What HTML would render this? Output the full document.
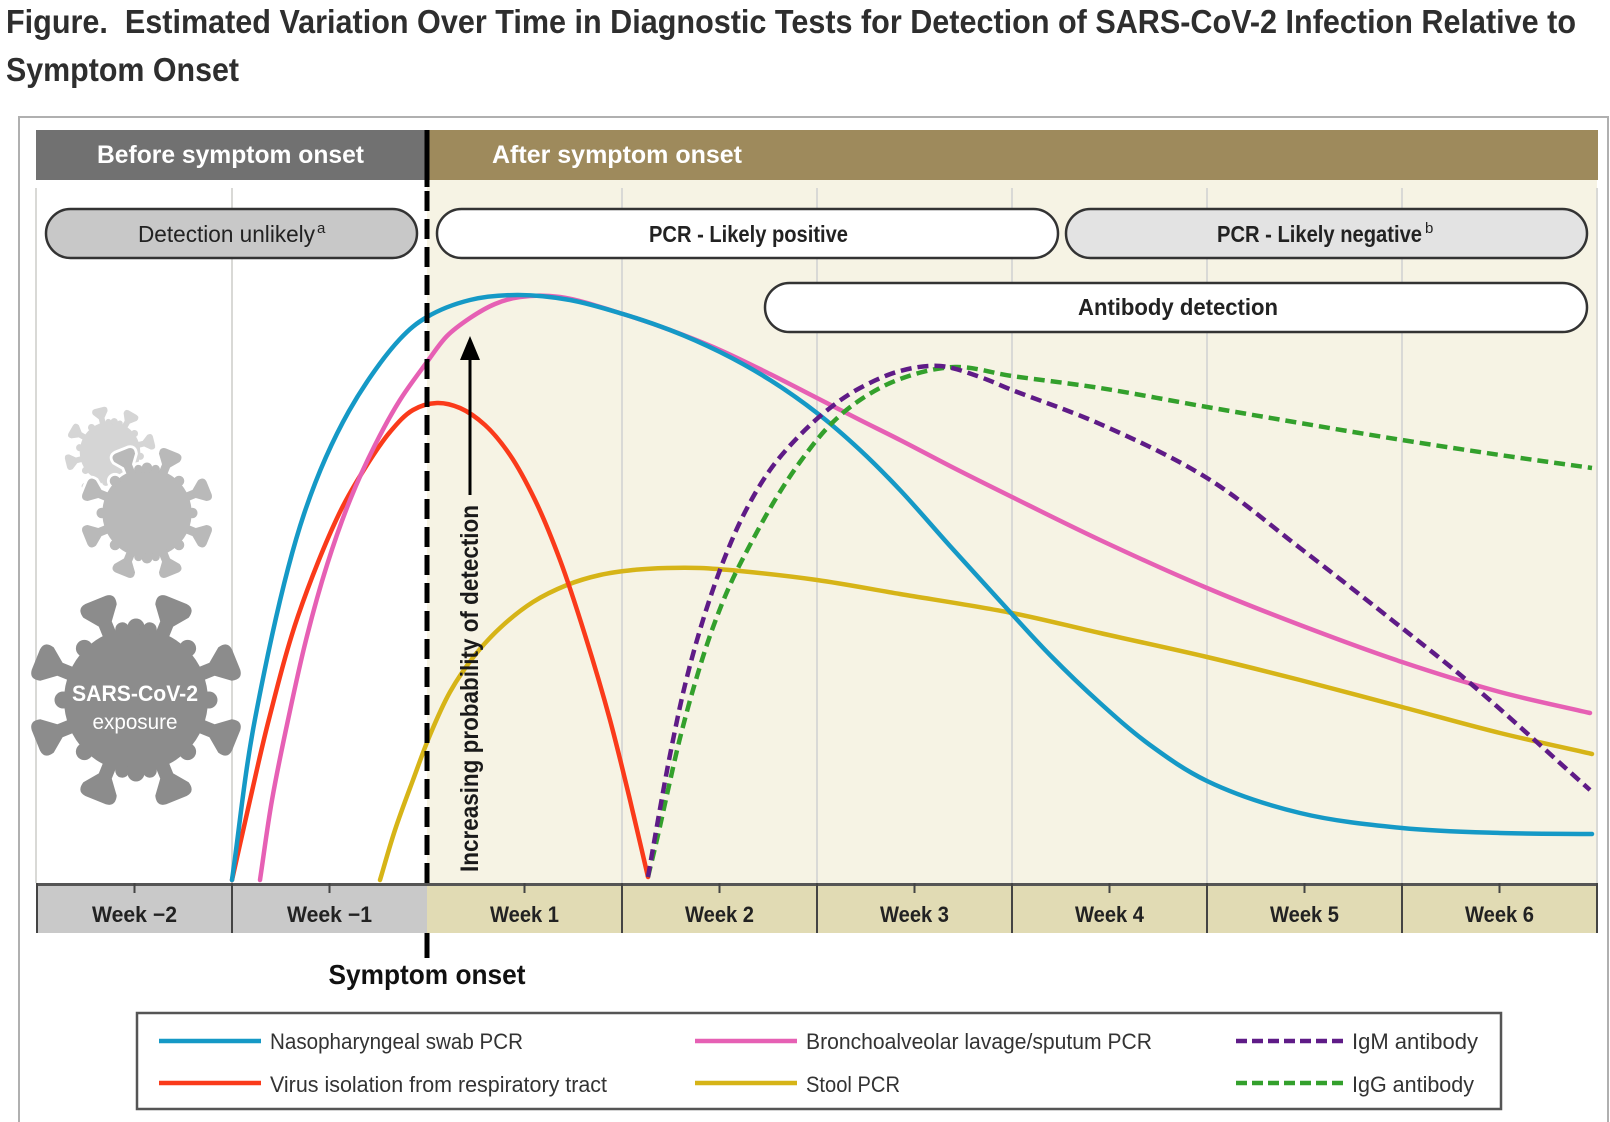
<!DOCTYPE html>
<html>
<head>
<meta charset="utf-8">
<style>
html,body{margin:0;padding:0;background:#fff;width:1610px;height:1122px;overflow:hidden}
svg{display:block}
text{font-family:"Liberation Sans Narrow","Liberation Sans",sans-serif}
</style>
</head>
<body>
<svg width="1610" height="1122" viewBox="0 0 1610 1122" xmlns="http://www.w3.org/2000/svg">
<defs>
  <path id="spk" d="M-7,-66 L-7,-82 L-18,-96 Q-21,-107 -11,-108 L11,-108 Q21,-107 18,-96 L7,-82 L7,-66 Z"/>
  <g id="vir">
    <circle cx="0" cy="0" r="72"/>
    <circle cx="0" cy="-73" r="8.5" transform="rotate(0)"/>
    <circle cx="0" cy="-73" r="8.5" transform="rotate(45)"/>
    <circle cx="0" cy="-73" r="8.5" transform="rotate(90)"/>
    <circle cx="0" cy="-73" r="8.5" transform="rotate(135)"/>
    <circle cx="0" cy="-73" r="8.5" transform="rotate(180)"/>
    <circle cx="0" cy="-73" r="8.5" transform="rotate(225)"/>
    <circle cx="0" cy="-73" r="8.5" transform="rotate(270)"/>
    <circle cx="0" cy="-73" r="8.5" transform="rotate(315)"/>
    <circle cx="0" cy="-72" r="7" transform="rotate(11)"/>
    <circle cx="0" cy="-72" r="7" transform="rotate(-11)"/>
    <circle cx="0" cy="-72" r="7" transform="rotate(169)"/>
    <circle cx="0" cy="-72" r="7" transform="rotate(-169)"/>
    <use href="#spk" transform="rotate(22)"/>
    <use href="#spk" transform="rotate(68)"/>
    <use href="#spk" transform="rotate(112)"/>
    <use href="#spk" transform="rotate(158)"/>
    <use href="#spk" transform="rotate(-22)"/>
    <use href="#spk" transform="rotate(-68)"/>
    <use href="#spk" transform="rotate(-112)"/>
    <use href="#spk" transform="rotate(-158)"/>
  </g>
</defs>

<!-- Title -->
<text x="6" y="33" font-size="33" font-weight="bold" fill="#2e2e2e" textLength="1570" lengthAdjust="spacingAndGlyphs">Figure.&#160; Estimated Variation Over Time in Diagnostic Tests for Detection of SARS-CoV-2 Infection Relative to</text>
<text x="6" y="81" font-size="33" font-weight="bold" fill="#2e2e2e" textLength="233" lengthAdjust="spacingAndGlyphs">Symptom Onset</text>

<!-- Frame -->
<rect x="19" y="117" width="1589" height="1030" fill="#fff" stroke="#b0b0b0" stroke-width="2"/>

<!-- Header -->
<rect x="36" y="130" width="391" height="50" fill="#717171"/>
<rect x="427" y="130" width="1171" height="50" fill="#9e8a5c"/>
<text x="97" y="163" font-size="25" font-weight="bold" fill="#fff" textLength="267" lengthAdjust="spacingAndGlyphs">Before symptom onset</text>
<text x="492" y="163" font-size="25" font-weight="bold" fill="#fff" textLength="250" lengthAdjust="spacingAndGlyphs">After symptom onset</text>

<!-- Plot background -->
<rect x="427" y="180" width="1170" height="703" fill="#f6f3e4"/>
<g stroke="#d9d9d6" stroke-width="2">
  <line x1="36" y1="188" x2="36" y2="883"/>
  <line x1="232" y1="188" x2="232" y2="883"/>
  <line x1="622" y1="188" x2="622" y2="883"/>
  <line x1="817" y1="188" x2="817" y2="883"/>
  <line x1="1012" y1="188" x2="1012" y2="883"/>
  <line x1="1207" y1="188" x2="1207" y2="883"/>
  <line x1="1402" y1="188" x2="1402" y2="883"/>
  <line x1="1597" y1="188" x2="1597" y2="883"/>
</g>

<!-- Pills -->
<rect x="46" y="209" width="371" height="49" rx="24.5" fill="#c8c8c8" stroke="#333" stroke-width="2.5"/>
<text x="138" y="242" font-size="23" fill="#222" textLength="177" lengthAdjust="spacingAndGlyphs">Detection unlikely</text>
<text x="317" y="233" font-size="15" fill="#222">a</text>

<rect x="437" y="209" width="621" height="49" rx="24.5" fill="#fff" stroke="#333" stroke-width="2.5"/>
<text x="649" y="242" font-size="23" font-weight="bold" fill="#222" textLength="199" lengthAdjust="spacingAndGlyphs">PCR - Likely positive</text>

<rect x="1066" y="209" width="521" height="49" rx="24.5" fill="#e3e3e3" stroke="#333" stroke-width="2.5"/>
<text x="1217" y="242" font-size="23" font-weight="bold" fill="#222" textLength="205" lengthAdjust="spacingAndGlyphs">PCR - Likely negative</text>
<text x="1425" y="233" font-size="15" fill="#222">b</text>

<rect x="765" y="283" width="822" height="49" rx="24.5" fill="#fff" stroke="#333" stroke-width="2.5"/>
<text x="1078" y="315" font-size="23" font-weight="bold" fill="#222" textLength="200" lengthAdjust="spacingAndGlyphs">Antibody detection</text>

<!-- Curves -->
<g fill="none" stroke-width="4.5" stroke-linecap="round" stroke-linejoin="round">
  <path class="crv" stroke="#d6b417" d="M380,880 L395,830 L413,780 L430,735 L450,692 L475,655 L500,628 L533,602 L567,585 L600,575 L633,570 L667,568 L700,568 L740,571 L817,580 L900,594 L1012,613 L1100,633 L1207,657 L1300,680 L1402,707 L1500,733 L1592,754"/>
  <path class="crv" stroke="#fa3a1a" d="M232,880 L250,800 L269,719 L298,616 L339,514 L365,468 L390,432 L413,410 L437,403 L460,408 L485,425 L510,455 L535,500 L560,560 L585,635 L610,720 L630,800 L648,877"/>
  <path class="crv" stroke="#e660b4" d="M260,880 L272,800 L288,720 L306,640 L327,565 L350,500 L375,445 L400,400 L427,362 L447,336 L470,318 L495,304 L520,297 L560,297 L623,314 L670,330 L720,350 L770,374 L817,398 L860,420 L900,440 L950,466 L1012,497 L1100,540 L1207,588 L1300,625 L1402,662 L1500,692 L1590,713"/>
  <path class="crv" stroke="#1599c6" d="M232,880 L255,719 L304,514 L349,411 L400,339 L427,317 L470,300 L517,295 L570,300 L623,314 L670,330 L720,352 L770,380 L817,413 L860,450 L900,490 L950,546 L1000,601 L1050,655 L1100,703 L1150,745 L1207,781 L1300,813 L1402,828 L1500,833 L1592,834"/>
</g>
<g fill="none" stroke-width="4.5" stroke-dasharray="11 6">
  <path class="crv" stroke="#33a02c" d="M648,877 L658,835 L668,790 L680,738 L695,683 L712,630 L730,585 L750,545 L775,500 L800,462 L830,425 L860,400 L900,379 L955,367 L1012,376 L1100,388 L1207,407 L1300,423 L1402,440 L1500,455 L1592,468"/>
  <path class="crv" stroke="#5f1b87" d="M648,877 L658,820 L670,755 L685,685 L703,620 L723,562 L745,512 L770,470 L800,435 L830,408 L860,388 L900,371 L940,366 L980,377 L1012,390 L1100,424 L1207,478 L1300,548 L1402,628 L1470,683 L1590,790"/>
</g>

<!-- Symptom onset line -->
<line x1="427" y1="130" x2="427" y2="187" stroke="#000" stroke-width="5"/>
<line x1="427" y1="191" x2="427" y2="880" stroke="#000" stroke-width="5" stroke-dasharray="20 8"/>
<line x1="427" y1="880" x2="427" y2="958" stroke="#000" stroke-width="5"/>

<!-- Arrow + label -->
<line x1="470" y1="495" x2="470" y2="356" stroke="#000" stroke-width="3"/>
<polygon points="470,336 460,360 480,360" fill="#000"/>
<text transform="translate(478,872) rotate(-90)" font-size="25" font-weight="bold" fill="#1a1a1a" textLength="367" lengthAdjust="spacingAndGlyphs">Increasing probability of detection</text>

<!-- Week band -->
<rect x="37" y="883" width="390" height="50" fill="#c9c9c9"/>
<rect x="427" y="883" width="1170" height="50" fill="#e1dbb4"/>
<line x1="36" y1="884.5" x2="1598" y2="884.5" stroke="#555" stroke-width="3"/>
<g stroke="#444" stroke-width="2">
  <line x1="37" y1="883" x2="37" y2="933"/>
  <line x1="232" y1="883" x2="232" y2="933"/>
  <line x1="622" y1="883" x2="622" y2="933"/>
  <line x1="817" y1="883" x2="817" y2="933"/>
  <line x1="1012" y1="883" x2="1012" y2="933"/>
  <line x1="1207" y1="883" x2="1207" y2="933"/>
  <line x1="1402" y1="883" x2="1402" y2="933"/>
  <line x1="1597" y1="883" x2="1597" y2="933"/>
  <line x1="134.5" y1="883" x2="134.5" y2="893"/>
  <line x1="329.5" y1="883" x2="329.5" y2="893"/>
  <line x1="524.5" y1="883" x2="524.5" y2="893"/>
  <line x1="719.5" y1="883" x2="719.5" y2="893"/>
  <line x1="914.5" y1="883" x2="914.5" y2="893"/>
  <line x1="1109.5" y1="883" x2="1109.5" y2="893"/>
  <line x1="1304.5" y1="883" x2="1304.5" y2="893"/>
  <line x1="1499.5" y1="883" x2="1499.5" y2="893"/>
</g>
<g font-size="22" font-weight="bold" fill="#222" text-anchor="middle">
  <text x="134.5" y="922" textLength="85" lengthAdjust="spacingAndGlyphs">Week −2</text>
  <text x="329.5" y="922" textLength="85" lengthAdjust="spacingAndGlyphs">Week −1</text>
  <text x="524.5" y="922" textLength="69" lengthAdjust="spacingAndGlyphs">Week 1</text>
  <text x="719.5" y="922" textLength="69" lengthAdjust="spacingAndGlyphs">Week 2</text>
  <text x="914.5" y="922" textLength="69" lengthAdjust="spacingAndGlyphs">Week 3</text>
  <text x="1109.5" y="922" textLength="69" lengthAdjust="spacingAndGlyphs">Week 4</text>
  <text x="1304.5" y="922" textLength="69" lengthAdjust="spacingAndGlyphs">Week 5</text>
  <text x="1499.5" y="922" textLength="69" lengthAdjust="spacingAndGlyphs">Week 6</text>
</g>

<text x="427" y="984" font-size="28" font-weight="bold" fill="#111" text-anchor="middle" textLength="197" lengthAdjust="spacingAndGlyphs">Symptom onset</text>

<!-- Legend -->
<rect x="137" y="1013" width="1364" height="96" fill="#fff" stroke="#555" stroke-width="2.5"/>
<g stroke-width="4.5">
  <line x1="159" y1="1041" x2="261" y2="1041" stroke="#1599c6"/>
  <line x1="159" y1="1083" x2="261" y2="1083" stroke="#fa3a1a"/>
  <line x1="695" y1="1041" x2="797" y2="1041" stroke="#e660b4"/>
  <line x1="695" y1="1083" x2="797" y2="1083" stroke="#d6b417"/>
  <line x1="1236" y1="1041" x2="1343" y2="1041" stroke="#5f1b87" stroke-dasharray="11 5"/>
  <line x1="1236" y1="1083" x2="1343" y2="1083" stroke="#33a02c" stroke-dasharray="11 5"/>
</g>
<g font-size="22" fill="#333">
  <text x="270" y="1049" textLength="253" lengthAdjust="spacingAndGlyphs">Nasopharyngeal swab PCR</text>
  <text x="270" y="1092" textLength="337" lengthAdjust="spacingAndGlyphs">Virus isolation from respiratory tract</text>
  <text x="806" y="1049" textLength="346" lengthAdjust="spacingAndGlyphs">Bronchoalveolar lavage/sputum PCR</text>
  <text x="806" y="1092" textLength="94" lengthAdjust="spacingAndGlyphs">Stool PCR</text>
  <text x="1352" y="1049" textLength="126" lengthAdjust="spacingAndGlyphs">IgM antibody</text>
  <text x="1352" y="1092" textLength="122" lengthAdjust="spacingAndGlyphs">IgG antibody</text>
</g>

<!-- Viruses -->
<use href="#vir" transform="translate(110,452) scale(0.42) rotate(8)" fill="#d5d5d5"/>
<use href="#vir" transform="translate(147,513) scale(0.62)" fill="#fff" stroke="#fff" stroke-width="9"/>
<use href="#vir" transform="translate(147,513) scale(0.62)" fill="#b9b9b9"/>
<use href="#vir" transform="translate(136,700)" fill="#8c8c8c"/>
<text x="135" y="701" font-size="22" font-weight="bold" fill="#fff" text-anchor="middle" textLength="126" lengthAdjust="spacingAndGlyphs">SARS-CoV-2</text>
<text x="135" y="729" font-size="21" fill="#fff" text-anchor="middle" textLength="85" lengthAdjust="spacingAndGlyphs">exposure</text>
</svg>
<script>
(function(){
  function dist(a,b){var dx=a[0]-b[0],dy=a[1]-b[1];return Math.sqrt(dx*dx+dy*dy)||1e-6;}
  var paths=document.querySelectorAll('path.crv');
  for(var k=0;k<paths.length;k++){
    var el=paths[k];
    var nums=el.getAttribute('d').match(/-?\d+(\.\d+)?/g).map(Number);
    var p=[];
    for(var i=0;i<nums.length;i+=2)p.push([nums[i],nums[i+1]]);
    var n=p.length;
    var d='M'+p[0][0]+','+p[0][1];
    for(var i=0;i<n-1;i++){
      var p1=p[i],p2=p[i+1];
      var p0=i>0?p[i-1]:[2*p1[0]-p2[0],2*p1[1]-p2[1]];
      var p3=i<n-2?p[i+2]:[2*p2[0]-p1[0],2*p2[1]-p1[1]];
      var a1=dist(p0,p1),a2=dist(p1,p2),a3=dist(p2,p3);
      var d1=Math.sqrt(a1),d2=Math.sqrt(a2),d3=Math.sqrt(a3);
      var c1=[],c2=[];
      for(var j=0;j<2;j++){
        c1[j]=(a1*p2[j]-a2*p0[j]+(2*a1+3*d1*d2+a2)*p1[j])/(3*d1*(d1+d2));
        c2[j]=(a3*p1[j]-a2*p3[j]+(2*a3+3*d3*d2+a2)*p2[j])/(3*d3*(d3+d2));
      }
      d+=' C'+c1[0].toFixed(1)+','+c1[1].toFixed(1)+' '+c2[0].toFixed(1)+','+c2[1].toFixed(1)+' '+p2[0]+','+p2[1];
    }
    el.setAttribute('d',d);
  }
})();
</script>
</body>
</html>
